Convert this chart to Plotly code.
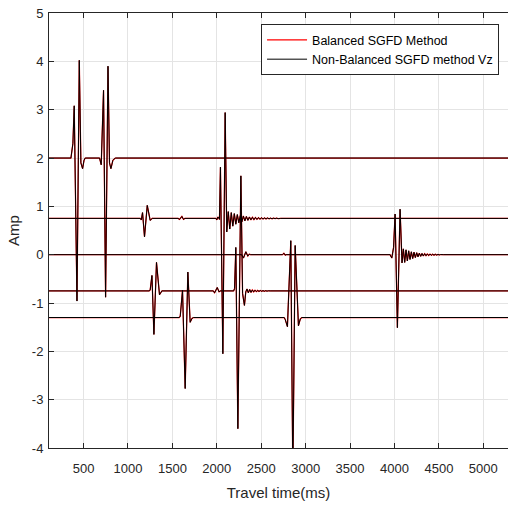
import plotly.graph_objects as go

# ---------------- data ----------------
offsets = [2.0, 0.75, 0.0, -0.75, -1.3]

# trace 1 (offset 2)
t1 = [0, 358, 380, 395, 426, 452, 470, 489, 505, 519,
      680, 699, 725, 748, 775, 792, 808, 830, 857, 5400]
a1 = [0, 0, 0.30, 1.08, -2.96, 2.02, -0.10, -0.22, -0.05, 0,
      0, -0.14, 1.40, -2.88, 1.90, -0.10, -0.22, -0.05, 0, 0]

# trace 2 (offset 0.75)
t2 = [0, 1138, 1150, 1164, 1186, 1217, 1250, 1273,
      1565, 1580, 1607, 1625, 1640,
      1990, 2000, 2012, 2024, 2030, 2041, 2068, 2094, 2112,
      2129, 2146, 2163, 2180, 2197, 2214, 2231, 2248, 2265, 2282,
      2299, 2316, 2333, 2350, 2367, 2384, 2401, 2418, 2435, 2452,
      2469, 2486, 2503, 2520, 2537, 2554, 2571, 2588, 2605, 2622,
      2639, 2656, 2673, 2690, 2720, 5400]
a2 = [0, 0, -0.03, 0.12, -0.38, 0.27, -0.04, 0,
      0, -0.02, 0.04, -0.02, 0,
      0, -0.03, 0.03, 0, -0.02, 1.06, -2.80, 2.19, -0.28,
      0.14, -0.22, 0.12, -0.16, 0.10, -0.12, 0.08, -0.09, 0.06, -0.07,
      0.05, -0.05, 0.04, -0.04, 0.03, -0.03, 0.025, -0.025, 0.02, -0.02,
      0.015, -0.015, 0.012, -0.012, 0.01, -0.01, 0.008, -0.008, 0.006, -0.006,
      0.005, -0.005, 0.004, -0.004, 0, 0]

# trace 3 (offset 0)
t3 = [0, 2280, 2300, 2327, 2349, 2365, 2380,
      2740, 2755, 2770, 2780,
      3950, 3970, 3990, 4007, 4033, 4063, 4085,
      4100, 4115, 4130, 4145, 4160, 4175, 4190, 4205, 4220, 4235,
      4250, 4265, 4280, 4295, 4310, 4325, 4340, 4355, 4370, 4385,
      4400, 4415, 4430, 4445, 4460, 4475, 4490, 4505, 4520, 4550, 5400]
a3 = [0, 0, -0.07, 0.06, -0.03, 0.01, 0,
      0, 0.03, -0.01, 0,
      0, -0.07, 0.15, 0.84, -1.51, 0.94, -0.17,
      0.12, -0.16, 0.10, -0.13, 0.08, -0.10, 0.06, -0.08, 0.05, -0.06,
      0.04, -0.045, 0.03, -0.035, 0.025, -0.028, 0.02, -0.022, 0.015, -0.017,
      0.012, -0.013, 0.009, -0.01, 0.007, -0.007, 0.005, -0.005, 0.003, 0, 0]

# trace 4 (offset -0.75)
t4 = [0, 1240, 1250, 1270, 1292, 1321, 1355, 1382,
      1960, 1975, 2005, 2025, 2040,
      2190, 2200, 2214, 2237, 2271, 2290, 2311,
      2326, 2340, 2355, 2370, 2385, 2400, 2415, 2430, 2445, 2460,
      2475, 2490, 2505, 2520, 2535, 2550, 2565, 2580, 2600, 5400]
a4 = [0, 0, 0.02, 0.32, -0.90, 0.59, -0.08, 0,
      0, -0.04, 0.07, -0.02, 0,
      0, 0.05, 0.90, -2.85, 2.38, -0.05, -0.30,
      -0.02, 0.04, -0.04, 0.03, -0.03, 0.02, -0.02, 0.015, -0.015, 0.01,
      -0.01, 0.008, -0.008, 0.006, -0.006, 0.005, -0.005, 0.003, 0, 0]

# trace 5 (offset -1.3)
t5 = [0, 1575, 1588, 1614, 1644, 1674, 1700, 1720, 1738,
      2758, 2770, 2795, 2833, 2856, 2882, 2919, 2940, 2957, 5400]
a5 = [0, 0, 0.02, 0.56, -1.47, 0.94, -0.10, -0.02, 0,
      0, -0.04, -0.19, 1.59, -3.30, 1.49, -0.17, -0.03, 0, 0]

times = [t1, t2, t3, t4, t5]
amps = [a1, a2, a3, a4, a5]

series_names = ["Balanced SGFD Method", "Non-Balanced SGFD method Vz"]
x_ticks = [500, 1000, 1500, 2000, 2500, 3000, 3500, 4000, 4500, 5000]
y_ticks = [-4, -3, -2, -1, 0, 1, 2, 3, 4, 5]
y_tick_labels = ["-4", "-3", "-2", "-1", "0", "1", "2", "3", "4", "5"]

# ---------------- figure ----------------
FONT = "Liberation Sans, Arial, Helvetica, sans-serif"
TXT = "#262626"

fig = go.Figure()

for name, color, width in [(series_names[0], "#ff0000", 1.25),
                           (series_names[1], "#000000", 1.0)]:
    for i, (t, a, off) in enumerate(zip(times, amps, offsets)):
        fig.add_trace(go.Scatter(
            x=t, y=[v + off for v in a], mode="lines",
            line=dict(color=color, width=width, simplify=False),
            name=name, legendgroup=name, showlegend=(i == 0),
            hoverinfo="skip"))

fig.update_layout(
    width=508, height=508,
    margin=dict(l=49, r=0, t=13, b=60),
    paper_bgcolor="white", plot_bgcolor="white",
    font=dict(family=FONT, color=TXT, size=13),
    showlegend=True,
    legend=dict(x=0.462, y=0.974, xanchor="left", yanchor="top",
                bgcolor="white", bordercolor=TXT, borderwidth=1,
                font=dict(family=FONT, size=12.5, color="#000000"),
                itemwidth=40, tracegroupgap=0),
)

fig.update_xaxes(
    range=[111, 5278], tickvals=x_ticks,
    ticks="inside", ticklen=5, tickcolor=TXT,
    showline=True, linecolor=TXT, linewidth=1, mirror="ticks",
    showgrid=True, gridcolor="#e4e4e4", gridwidth=1, zeroline=False,
    tickfont=dict(size=13, color=TXT), ticklabelstandoff=8,
    title=dict(text="Travel time(ms)", font=dict(size=15, color=TXT), standoff=12),
)
fig.update_yaxes(
    range=[-4, 5], tickvals=y_ticks, ticktext=y_tick_labels,
    ticks="inside", ticklen=5, tickcolor=TXT,
    showline=True, linecolor=TXT, linewidth=1, mirror=False,
    showgrid=True, gridcolor="#e4e4e4", gridwidth=1, zeroline=False,
    tickfont=dict(size=13, color=TXT), ticklabelstandoff=2,
    title=dict(text="Amp", font=dict(size=15, color=TXT), standoff=8),
)

fig.write_html("out.html")
